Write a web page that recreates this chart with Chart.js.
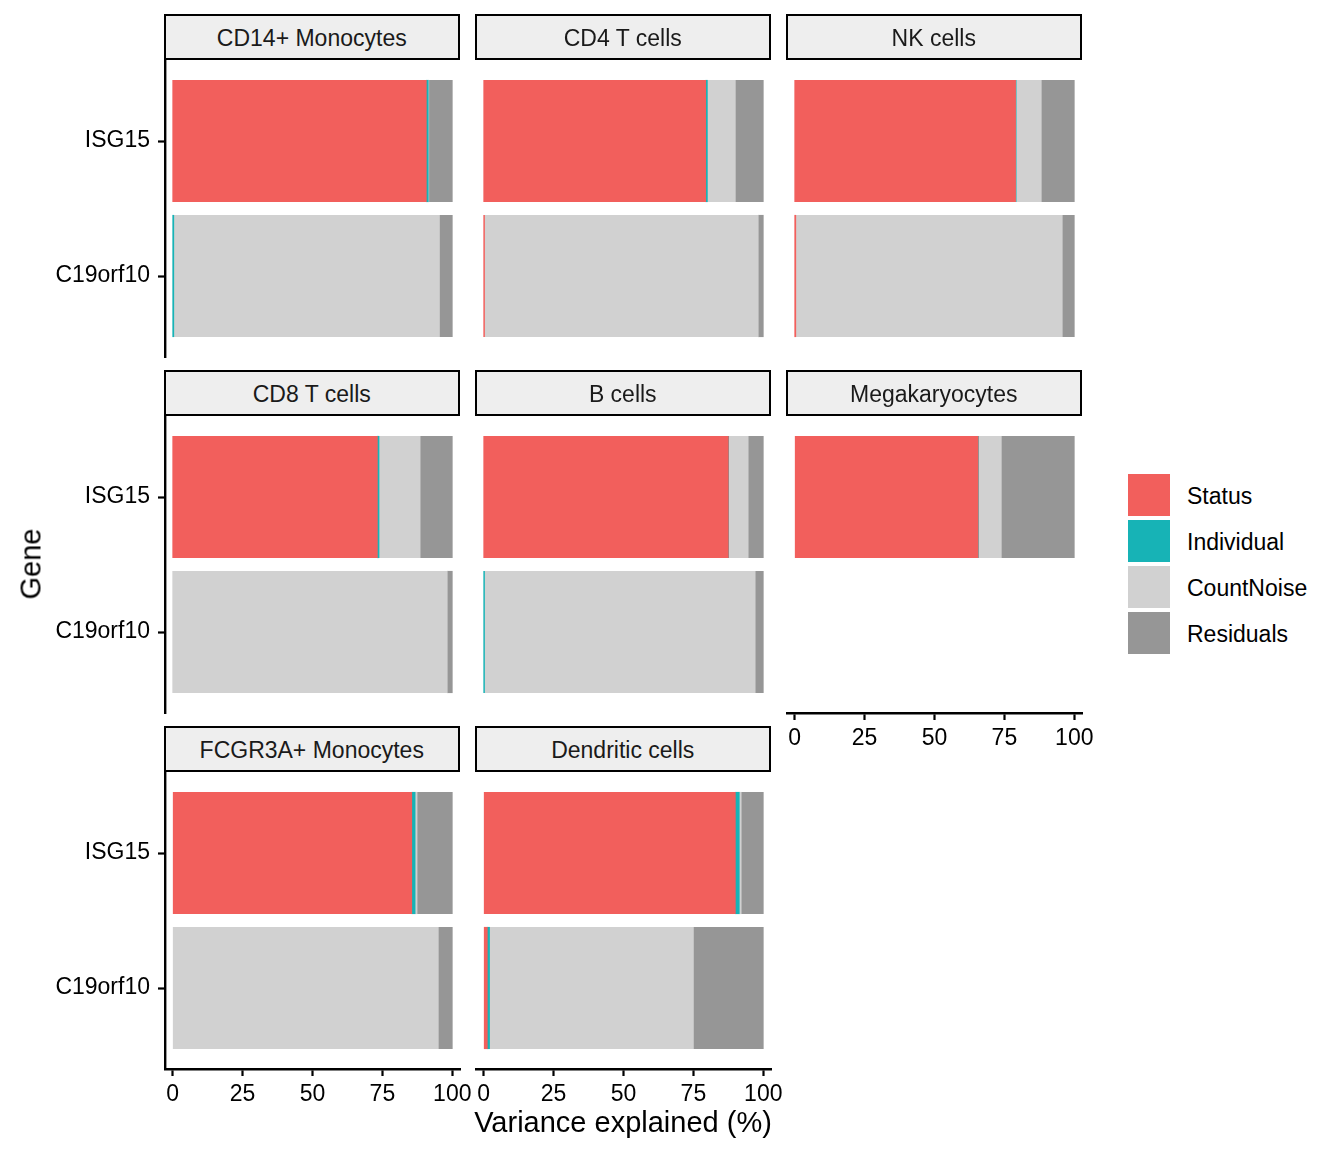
<!DOCTYPE html>
<html><head><meta charset="utf-8">
<script src="https://cdn.jsdelivr.net/npm/chart.js@4"></script>
<style>
html,body{margin:0;padding:0;background:#fff;}
#wrap{position:relative;width:1344px;height:1152px;overflow:hidden;font-family:'Liberation Sans',Arial,Helvetica,sans-serif;background:#fff;}
canvas{position:absolute;}
.strip{position:absolute;box-sizing:border-box;border:2.5px solid #000;background:#EEEEEE;font-size:23px;color:#1a1a1a;display:flex;align-items:center;justify-content:center;white-space:nowrap;z-index:2;padding-top:3px;}
.title{position:absolute;font-size:29px;color:#000;white-space:nowrap;transform:translate(-50%,-50%);}
.key{position:absolute;width:42px;height:42px;}
.ktxt{position:absolute;font-size:23px;color:#000;white-space:nowrap;transform:translateY(-50%);}
</style>
</head><body>
<div id="wrap"></div>
<script>
// ---- data ----
const genes = ['ISG15', 'C19orf10'];
const components = ['Status', 'Individual', 'CountNoise', 'Residuals'];
const cellTypes = ['CD14+ Monocytes', 'CD4 T cells', 'NK cells', 'CD8 T cells', 'B cells', 'Megakaryocytes', 'FCGR3A+ Monocytes', 'Dendritic cells'];
const xTicks = [0, 25, 50, 75, 100];
// values per cell type: [ISG15, C19orf10] (% variance explained)
const statusVals     = [[90.7, 0], [79.4, 0.3], [79.0, 0.4], [73.2, 0], [87.5, 0], [65.6, null], [85.5, 0], [90.0, 1.3]];
const individualVals = [[0.7, 0.4], [0.6, 0], [0.2, 0], [0.6, 0], [0.1, 0.3], [0.1, null], [1.2, 0], [1.4, 0.8]];
const countNoiseVals = [[0.2, 95.0], [10.0, 97.9], [9.0, 95.3], [14.7, 98.2], [7.0, 96.8], [8.2, null], [0.7, 95.0], [0.7, 72.9]];
const residualVals   = [[8.4, 4.6], [10.0, 1.8], [11.8, 4.3], [11.5, 1.8], [5.4, 2.9], [26.1, null], [12.6, 5.0], [7.9, 25.0]];

// ---- styles / layout ----
const series = [statusVals, individualVals, countNoiseVals, residualVals];
const colors = ['#F25F5C', '#17B3B6', '#D1D1D1', '#969696'];
Chart.defaults.font.family = "'Liberation Sans', Arial, Helvetica, sans-serif";
const PL = [165, 476, 787], PT = [59.5, 415.5, 771.5], PW = 295, PH = 297;
const PAD = 30, XAX = 50, YAX = 165;
const wrap = document.getElementById('wrap');

cellTypes.forEach((ct, i) => {
  const r = Math.floor(i / 3), c = i % 3;
  const hasX = (i >= 5);
  const hasY = (c === 0);
  const padL = hasY ? 0 : 10;
  const left = PL[c] - (hasY ? YAX : padL);
  const top = PT[r] - PAD;
  const w = (PL[c] + PW + PAD) - left;
  const h = PAD + PH + (hasX ? XAX : PAD);
  const cv = document.createElement('canvas');
  cv.width = w; cv.height = h;
  cv.style.left = left + 'px'; cv.style.top = top + 'px';
  cv.style.width = w + 'px'; cv.style.height = h + 'px';
  wrap.appendChild(cv);

  const strip = document.createElement('div');
  strip.className = 'strip';
  strip.textContent = ct;
  strip.style.left = (PL[c] - 1.5) + 'px';
  strip.style.top = (PT[r] - 45.5) + 'px';
  strip.style.width = (PW + 1.5) + 'px';
  strip.style.height = '45.5px';
  wrap.appendChild(strip);

  const gridOpts = {display: true, offset: false, drawOnChartArea: false, drawTicks: true, tickLength: 7, tickWidth: 2.2, tickColor: '#000'};
  const borderOpts = {display: true, color: '#000', width: 2.4};

  new Chart(cv, {
    type: 'bar',
    data: {
      labels: genes,
      datasets: components.map((comp, k) => ({
        label: comp,
        data: series[k][i].map(v => (v === 0 ? null : v)),
        backgroundColor: colors[k],
        borderWidth: 0,
        barThickness: 0.9 * PH / 2.2
      }))
    },
    options: {
      indexAxis: 'y',
      responsive: false,
      animation: false,
      devicePixelRatio: 1,
      layout: {padding: {left: padL, right: PAD, top: PAD, bottom: hasX ? 0 : PAD}},
      plugins: {legend: {display: false}, tooltip: {enabled: false}},
      scales: {
        x: {
          type: 'linear', stacked: true, min: -2.75, max: 102.75, display: hasX,
          afterBuildTicks: s => { s.ticks = xTicks.map(v => ({value: v})); },
          afterFit: s => { if (hasX) s.height = XAX; },
          grid: gridOpts, border: borderOpts,
          ticks: {color: '#000', font: {size: 23}, padding: 5, maxRotation: 0, autoSkip: false}
        },
        y: {
          type: 'category', stacked: true, display: hasY, offset: true,
          afterBuildTicks: s => { s._startValue = -0.6; s._valueRange = 2.2; },
          afterFit: s => { if (hasY) s.width = YAX; },
          grid: gridOpts, border: borderOpts,
          ticks: {color: '#000', font: {size: 23}, padding: 8, autoSkip: false}
        }
      }
    }
  });
});

// axis titles
const yt = document.createElement('div');
yt.className = 'title'; yt.textContent = 'Gene';
yt.style.left = '31px'; yt.style.top = '564px';
yt.style.transform = 'translate(-50%,-50%) rotate(-90deg)';
wrap.appendChild(yt);
const xt = document.createElement('div');
xt.className = 'title'; xt.textContent = 'Variance explained (%)';
xt.style.left = '623px'; xt.style.top = '1122px';
wrap.appendChild(xt);

// legend
components.forEach((comp, k) => {
  const ky = 474 + k * 46;
  const key = document.createElement('div');
  key.className = 'key';
  key.style.left = '1128px'; key.style.top = ky + 'px';
  key.style.background = colors[k];
  wrap.appendChild(key);
  const t = document.createElement('div');
  t.className = 'ktxt'; t.textContent = comp;
  t.style.left = '1187px'; t.style.top = (ky + 22) + 'px';
  wrap.appendChild(t);
});
</script>
</body></html>
